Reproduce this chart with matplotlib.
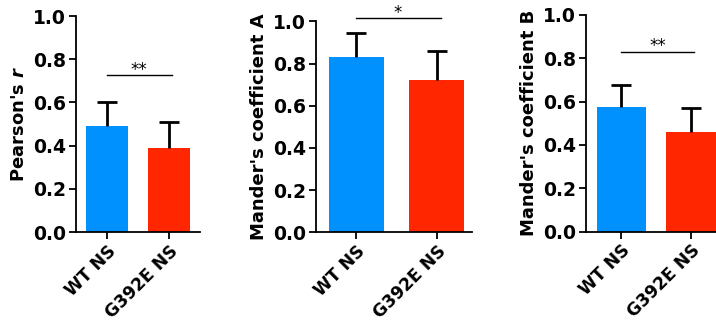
import matplotlib
matplotlib.use("Agg")
import matplotlib.pyplot as plt

plt.rcParams['font.family'] = ['DejaVu Sans']

groups = ["WT NS", "G392E NS"]
colors = ["#0091FF", "#FF2600"]

pearson_mean = [0.49, 0.39]
pearson_err = [0.11, 0.12]
manderA_mean = [0.83, 0.72]
manderA_err = [0.115, 0.14]
manderB_mean = [0.575, 0.46]
manderB_err = [0.10, 0.11]

sig_marks = ["**", "*", "**"]
sig_heights = [0.725, 1.014, 0.83]
ylabels = ["Pearson's $\\mathbfit{r}$", "Mander's coefficient A", "Mander's coefficient B"]

W, H = 716, 323
fig = plt.figure(figsize=(W / 100, H / 100), dpi=100)

# axes boxes in pixels: left, right, top, bottom
boxes = [(76, 200, 16, 232), (316, 472, 21.3, 232.3), (586, 716, 14.7, 231.7)]
xlims = [(-0.5, 1.5), (-0.5, 1.44), (-0.51, 1.36)]
widths = [0.69, 0.68, 0.71]
means = [pearson_mean, manderA_mean, manderB_mean]
errs = [pearson_err, manderA_err, manderB_err]

for i in range(3):
    l, r, t, b = boxes[i]
    ax = fig.add_axes([l / W, (H - b) / H, (r - l) / W, (b - t) / H])
    x = [0, 1]
    ax.bar(x, means[i], width=widths[i], color=colors, zorder=2)
    # one-sided (upper) error bars
    tops = [m + e for m, e in zip(means[i], errs[i])]
    ax.vlines(x, means[i], tops, color='black', lw=2, zorder=3)
    ax.scatter(x, tops, marker='_', s=220, linewidths=2, color='black', zorder=3)
    ax.set_xlim(*xlims[i])
    ax.set_ylim(0, 1.0)
    ax.set_yticks([0.0, 0.2, 0.4, 0.6, 0.8, 1.0])
    ax.set_yticklabels([f"{v:.1f}" for v in [0.0, 0.2, 0.4, 0.6, 0.8, 1.0]],
                       fontsize=13.5, fontweight='bold')
    ax.set_xticks(x)
    ax.set_xticklabels(groups, rotation=45, ha='right', rotation_mode='anchor',
                       fontsize=12.3, fontweight='bold')
    ax.set_ylabel(ylabels[i], fontsize=13, fontweight='bold')
    for s in ['top', 'right']:
        ax.spines[s].set_visible(False)
    for s in ['left', 'bottom']:
        ax.spines[s].set_linewidth(1.3)
    ax.tick_params(width=1.3, length=5, pad=2)
    # significance bar
    y = sig_heights[i]
    ax.plot([0, 1.05], [y, y], color='black', lw=1, clip_on=False)
    ax.text(0.52, y + 0.004, sig_marks[i], ha='center', va='baseline', fontsize=12)

fig.savefig("out.png", dpi=100)
